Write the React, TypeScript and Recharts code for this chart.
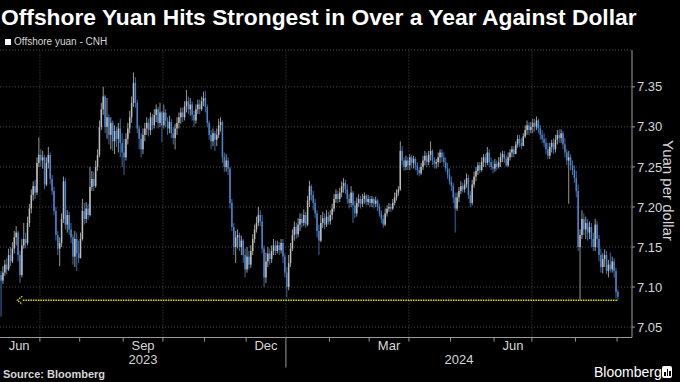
import React from 'react';
import { ComposedChart, Bar, XAxis, YAxis, CartesianGrid, ReferenceLine, ReferenceDot } from 'recharts';

// daily candles: [high, low, close], open = previous close
type HLC = [number, number, number];

const jun2023: HLC[] = [
  [7.122, 7.100, 7.115], [7.120, 7.063, 7.108], [7.126, 7.104, 7.118], [7.134, 7.114, 7.128],
  [7.136, 7.116, 7.122], [7.148, 7.120, 7.140], [7.150, 7.126, 7.132], [7.156, 7.130, 7.148],
  [7.170, 7.142, 7.162], [7.176, 7.152, 7.168], [7.170, 7.132, 7.140], [7.145, 7.105, 7.115],
  [7.160, 7.112, 7.152], [7.180, 7.148, 7.160], [7.168, 7.148, 7.155], [7.188, 7.152, 7.180],
  [7.204, 7.175, 7.198], [7.222, 7.192, 7.215], [7.232, 7.208, 7.226], [7.234, 7.210, 7.218],
  [7.262, 7.215, 7.255], [7.287, 7.250, 7.265],
];
const jul2023: HLC[] = [
  [7.272, 7.250, 7.258], [7.270, 7.248, 7.262], [7.265, 7.222, 7.228], [7.262, 7.226, 7.255],
  [7.275, 7.248, 7.265], [7.268, 7.228, 7.235], [7.240, 7.215, 7.220], [7.225, 7.190, 7.195],
  [7.200, 7.158, 7.165], [7.170, 7.140, 7.148], [7.162, 7.126, 7.155], [7.192, 7.150, 7.185],
  [7.238, 7.180, 7.232], [7.236, 7.172, 7.178], [7.196, 7.168, 7.190], [7.194, 7.165, 7.172],
  [7.180, 7.155, 7.162], [7.166, 7.128, 7.138], [7.170, 7.125, 7.160], [7.168, 7.120, 7.142],
  [7.158, 7.130, 7.136],
];
const aug2023: HLC[] = [
  [7.168, 7.140, 7.160], [7.210, 7.158, 7.195], [7.205, 7.178, 7.185], [7.206, 7.180, 7.198],
  [7.204, 7.184, 7.190], [7.250, 7.188, 7.225], [7.245, 7.220, 7.235], [7.244, 7.220, 7.226],
  [7.258, 7.224, 7.250], [7.272, 7.245, 7.265], [7.308, 7.262, 7.300], [7.330, 7.296, 7.322],
  [7.350, 7.315, 7.338], [7.340, 7.292, 7.300], [7.336, 7.285, 7.312], [7.316, 7.278, 7.290],
  [7.312, 7.272, 7.305], [7.308, 7.270, 7.282], [7.302, 7.266, 7.295], [7.300, 7.275, 7.285],
  [7.305, 7.268, 7.298], [7.310, 7.262, 7.280], [7.292, 7.250, 7.268],
];
const sep2023: HLC[] = [
  [7.285, 7.240, 7.262], [7.292, 7.258, 7.285], [7.305, 7.278, 7.298], [7.320, 7.292, 7.312],
  [7.338, 7.305, 7.330], [7.368, 7.325, 7.355], [7.362, 7.324, 7.330], [7.334, 7.292, 7.298],
  [7.302, 7.272, 7.285], [7.292, 7.262, 7.272], [7.298, 7.266, 7.290], [7.305, 7.282, 7.298],
  [7.312, 7.290, 7.305], [7.310, 7.288, 7.296], [7.318, 7.290, 7.312], [7.316, 7.296, 7.302],
  [7.322, 7.298, 7.315], [7.328, 7.306, 7.322], [7.325, 7.298, 7.305], [7.330, 7.300, 7.318],
  [7.320, 7.281, 7.302],
];
const oct2023: HLC[] = [
  [7.328, 7.298, 7.318], [7.322, 7.300, 7.308], [7.312, 7.290, 7.298], [7.314, 7.292, 7.306],
  [7.310, 7.286, 7.292], [7.300, 7.278, 7.286], [7.304, 7.272, 7.298], [7.312, 7.290, 7.305],
  [7.318, 7.298, 7.312], [7.324, 7.304, 7.318], [7.324, 7.306, 7.312], [7.332, 7.308, 7.326],
  [7.346, 7.318, 7.332], [7.338, 7.316, 7.322], [7.336, 7.314, 7.328], [7.332, 7.308, 7.315],
  [7.320, 7.300, 7.308], [7.328, 7.304, 7.322], [7.334, 7.316, 7.328], [7.334, 7.316, 7.322],
  [7.338, 7.320, 7.332], [7.344, 7.326, 7.336],
];
const nov2023: HLC[] = [
  [7.345, 7.318, 7.325], [7.328, 7.300, 7.305], [7.308, 7.284, 7.290], [7.296, 7.272, 7.282],
  [7.298, 7.276, 7.292], [7.295, 7.270, 7.284], [7.298, 7.276, 7.290], [7.310, 7.286, 7.302],
  [7.312, 7.294, 7.306], [7.308, 7.255, 7.262], [7.268, 7.244, 7.250], [7.266, 7.244, 7.258],
  [7.262, 7.240, 7.248], [7.250, 7.198, 7.205], [7.210, 7.170, 7.175], [7.180, 7.140, 7.150],
  [7.170, 7.130, 7.162], [7.172, 7.148, 7.165], [7.168, 7.145, 7.150], [7.164, 7.140, 7.158],
  [7.160, 7.130, 7.140], [7.148, 7.112, 7.122],
];
const dec2023: HLC[] = [
  [7.150, 7.118, 7.138], [7.145, 7.122, 7.128], [7.152, 7.124, 7.145], [7.166, 7.140, 7.160],
  [7.178, 7.155, 7.172], [7.188, 7.168, 7.180], [7.200, 7.176, 7.190], [7.196, 7.176, 7.182],
  [7.190, 7.142, 7.148], [7.152, 7.100, 7.112], [7.143, 7.105, 7.132], [7.150, 7.125, 7.142],
  [7.148, 7.128, 7.135], [7.152, 7.130, 7.145], [7.160, 7.140, 7.152], [7.158, 7.140, 7.145],
  [7.158, 7.142, 7.152], [7.156, 7.140, 7.146], [7.160, 7.142, 7.155], [7.160, 7.130, 7.138],
  [7.142, 7.112, 7.118],
];
const jan2024: HLC[] = [
  [7.125, 7.087, 7.100], [7.140, 7.096, 7.130], [7.155, 7.125, 7.148], [7.172, 7.145, 7.165],
  [7.182, 7.158, 7.175], [7.180, 7.160, 7.166], [7.186, 7.162, 7.178], [7.192, 7.170, 7.185],
  [7.192, 7.174, 7.180], [7.197, 7.176, 7.190], [7.194, 7.174, 7.178], [7.214, 7.176, 7.208],
  [7.233, 7.200, 7.226], [7.228, 7.208, 7.215], [7.220, 7.196, 7.205], [7.210, 7.186, 7.192],
  [7.196, 7.162, 7.170], [7.178, 7.140, 7.158], [7.190, 7.156, 7.180], [7.194, 7.174, 7.186],
  [7.192, 7.172, 7.178], [7.196, 7.175, 7.188], [7.194, 7.178, 7.182],
];
const feb2024: HLC[] = [
  [7.196, 7.178, 7.190], [7.204, 7.184, 7.198], [7.216, 7.194, 7.210], [7.222, 7.205, 7.216],
  [7.220, 7.205, 7.210], [7.224, 7.206, 7.218], [7.232, 7.212, 7.226], [7.236, 7.218, 7.230],
  [7.234, 7.216, 7.222], [7.228, 7.204, 7.210], [7.216, 7.198, 7.205], [7.226, 7.200, 7.218],
  [7.220, 7.180, 7.202], [7.208, 7.186, 7.192], [7.212, 7.188, 7.205], [7.216, 7.200, 7.210],
  [7.214, 7.198, 7.204], [7.216, 7.200, 7.210], [7.218, 7.204, 7.214], [7.216, 7.202, 7.206],
  [7.215, 7.202, 7.210],
];
const mar2024: HLC[] = [
  [7.214, 7.200, 7.205], [7.214, 7.200, 7.210], [7.212, 7.198, 7.204], [7.213, 7.200, 7.208],
  [7.210, 7.195, 7.200], [7.204, 7.188, 7.192], [7.196, 7.180, 7.185], [7.190, 7.174, 7.178],
  [7.198, 7.176, 7.192], [7.202, 7.188, 7.198], [7.205, 7.194, 7.200], [7.204, 7.194, 7.198],
  [7.210, 7.196, 7.205], [7.218, 7.202, 7.212], [7.222, 7.208, 7.218], [7.226, 7.214, 7.222],
  [7.282, 7.220, 7.270], [7.276, 7.252, 7.258], [7.262, 7.245, 7.250], [7.264, 7.246, 7.258],
  [7.262, 7.246, 7.252],
];
const apr2024: HLC[] = [
  [7.266, 7.246, 7.262], [7.265, 7.248, 7.255], [7.264, 7.248, 7.260], [7.262, 7.246, 7.252],
  [7.256, 7.240, 7.246], [7.250, 7.238, 7.242], [7.255, 7.240, 7.250], [7.264, 7.246, 7.258],
  [7.270, 7.252, 7.264], [7.268, 7.250, 7.256], [7.270, 7.252, 7.265], [7.282, 7.258, 7.270],
  [7.272, 7.252, 7.258], [7.262, 7.248, 7.254], [7.260, 7.248, 7.256], [7.268, 7.250, 7.262],
  [7.272, 7.255, 7.268], [7.272, 7.256, 7.262], [7.268, 7.250, 7.256], [7.262, 7.244, 7.248],
  [7.255, 7.235, 7.240], [7.248, 7.228, 7.232],
];
const may2024: HLC[] = [
  [7.238, 7.220, 7.226], [7.230, 7.205, 7.212], [7.218, 7.168, 7.198], [7.218, 7.195, 7.212],
  [7.225, 7.206, 7.220], [7.232, 7.216, 7.226], [7.230, 7.218, 7.222], [7.234, 7.218, 7.228],
  [7.242, 7.224, 7.236], [7.240, 7.210, 7.215], [7.220, 7.200, 7.205], [7.234, 7.202, 7.228],
  [7.244, 7.224, 7.238], [7.250, 7.232, 7.245], [7.256, 7.240, 7.252], [7.256, 7.242, 7.246],
  [7.262, 7.244, 7.256], [7.266, 7.250, 7.262], [7.266, 7.250, 7.255], [7.275, 7.252, 7.268],
  [7.272, 7.250, 7.256], [7.262, 7.246, 7.250], [7.258, 7.242, 7.248],
];
const jun2024: HLC[] = [
  [7.260, 7.244, 7.254], [7.258, 7.246, 7.250], [7.262, 7.248, 7.256], [7.268, 7.250, 7.262],
  [7.270, 7.256, 7.266], [7.270, 7.255, 7.260], [7.264, 7.250, 7.252], [7.268, 7.250, 7.262],
  [7.272, 7.258, 7.268], [7.276, 7.262, 7.272], [7.276, 7.262, 7.266], [7.282, 7.266, 7.278],
  [7.290, 7.274, 7.285], [7.290, 7.275, 7.280], [7.286, 7.272, 7.276], [7.292, 7.276, 7.288],
  [7.302, 7.286, 7.296], [7.308, 7.290, 7.302], [7.306, 7.290, 7.296], [7.306, 7.292, 7.300],
];
const jul2024: HLC[] = [
  [7.310, 7.292, 7.305], [7.310, 7.294, 7.300], [7.313, 7.296, 7.308], [7.310, 7.292, 7.298],
  [7.302, 7.284, 7.290], [7.296, 7.280, 7.285], [7.292, 7.275, 7.280], [7.286, 7.266, 7.272],
  [7.280, 7.260, 7.264], [7.280, 7.260, 7.275], [7.284, 7.268, 7.280], [7.286, 7.266, 7.272],
  [7.290, 7.268, 7.284], [7.296, 7.278, 7.290], [7.297, 7.280, 7.286], [7.297, 7.280, 7.292],
  [7.295, 7.272, 7.278], [7.286, 7.262, 7.268], [7.272, 7.252, 7.258], [7.270, 7.204, 7.262],
  [7.266, 7.246, 7.252], [7.258, 7.240, 7.246], [7.252, 7.230, 7.236],
];
const aug2024: HLC[] = [
  [7.245, 7.212, 7.220], [7.228, 7.145, 7.150], [7.172, 7.084, 7.165], [7.196, 7.160, 7.185],
  [7.192, 7.165, 7.172], [7.188, 7.160, 7.180], [7.185, 7.158, 7.168], [7.182, 7.160, 7.175],
  [7.180, 7.150, 7.160], [7.168, 7.145, 7.150], [7.185, 7.145, 7.178], [7.182, 7.150, 7.160],
  [7.165, 7.132, 7.140], [7.148, 7.118, 7.125], [7.142, 7.117, 7.135], [7.147, 7.125, 7.140],
  [7.145, 7.116, 7.120], [7.134, 7.112, 7.128], [7.143, 7.118, 7.122], [7.138, 7.118, 7.132],
  [7.136, 7.112, 7.120], [7.124, 7.086, 7.094],
];
const sep2024: HLC[] = [[7.097, 7.083, 7.088]];

const months = [
  jun2023, jul2023, aug2023, sep2023, oct2023, nov2023, dec2023,
  jan2024, feb2024, mar2024, apr2024, may2024, jun2024, jul2024, aug2024, sep2024,
];
const monthNames = ['Jun', 'Jul', 'Aug', 'Sep', 'Oct', 'Nov', 'Dec', 'Jan', 'Feb', 'Mar', 'Apr', 'May', 'Jun', 'Jul', 'Aug', 'Sep'];
const labelledMonths = [0, 3, 6, 9, 12];
const quarterMonths = [1, 4, 7, 10, 13];
const years = ['2023', '2024'];
const newYearMonth = 7;
const firstOpen = 7.112;
const yTicks = [7.05, 7.1, 7.15, 7.2, 7.25, 7.3, 7.35];
const markerLevel = 7.0835;
const markerFrom = 12.5;

const W = 680;
const H = 382;
const TOP = 50;
const RIGHT_W = 48;
const BOTTOM_H = 44.5;
const AXIS_Y = H - BOTTOM_H;
const X_MIN = 0.4;
const X_MAX = 334.4;
const Y_MIN = 7.037;
const Y_MAX = 7.396;

const FONT = '"Liberation Sans", Arial, sans-serif';
const UP = '#bdbdbd';
const DOWN = '#4a84cf';
const GRID = '#4d4d4d';
const AXIS = '#9a9a9a';
const TEXT = '#d6d6d6';

const rows: { i: number; open: number; high: number; low: number; close: number }[] = [];
const monthStart: number[] = [];
let prevClose = firstOpen;
months.forEach((m) => {
  monthStart.push(rows.length);
  m.forEach(([h, l, c]) => {
    const o = prevClose;
    rows.push({ i: rows.length, open: o, close: c, high: Math.max(h, o, c), low: Math.min(l, o, c) });
    prevClose = c;
  });
});
monthStart.push(rows.length);

const edge = (k: number) => monthStart[k] - 0.5;

// x axis ticks: month edges, month labels in the middle of a month, year labels
const tickInfo = new Map<number, { kind: string; text?: string }>();
for (let k = 1; k < months.length; k++) {
  tickInfo.set(edge(k), { kind: k === newYearMonth ? 'yearEdge' : 'edge' });
}
labelledMonths.forEach((k) => {
  tickInfo.set((edge(k) + edge(k + 1)) / 2, { kind: 'month', text: monthNames[k] });
});
tickInfo.set((X_MIN + edge(newYearMonth)) / 2, { kind: 'year', text: years[0] });
tickInfo.set((edge(newYearMonth) + X_MAX) / 2, { kind: 'year', text: years[1] });
const xTicks = Array.from(tickInfo.keys()).sort((a, b) => a - b);

const AxisTick = (props: any) => {
  const { x, payload } = props;
  const info = tickInfo.get(payload.value);
  if (!info) return null;
  if (info.kind === 'edge') {
    return <line x1={x} x2={x} y1={AXIS_Y} y2={AXIS_Y + 4} stroke={AXIS} />;
  }
  if (info.kind === 'yearEdge') {
    return <line x1={x} x2={x} y1={AXIS_Y} y2={AXIS_Y + 30} stroke={AXIS} />;
  }
  return (
    <text x={x} y={info.kind === 'month' ? AXIS_Y + 12.5 : AXIS_Y + 26.5} textAnchor="middle"
      fill={TEXT} fontSize={13} fontFamily={FONT}>
      {info.text}
    </text>
  );
};

const Candle = (props: any) => {
  const { x, y, width, height, payload } = props;
  if (!payload) return null;
  const { open, close, high, low } = payload;
  const top = Math.min(y, y + height);
  const span = Math.abs(height);
  const k = span / (high - low);
  const cx = x + width / 2;
  const yOpen = top + (high - open) * k;
  const yClose = top + (high - close) * k;
  const color = close >= open ? UP : DOWN;
  const bodyTop = Math.min(yOpen, yClose);
  const bodyH = Math.max(Math.abs(yOpen - yClose), 0.8);
  return (
    <g>
      <line x1={cx} x2={cx} y1={top} y2={top + span} stroke={color} strokeWidth={0.8} />
      <rect x={cx - 0.75} y={bodyTop} width={1.5} height={bodyH} fill={color} />
    </g>
  );
};

const Chevron = (props: any) => {
  const { cx, cy } = props;
  return (
    <path d={`M${cx},${cy - 4} L${cx - 5},${cy} L${cx},${cy + 4}`} fill="none"
      stroke="#e2e200" strokeWidth={1.3} strokeDasharray="1.5 1" />
  );
};

const YuanChart = () => {
  return (
    <div style={{ position: 'relative', width: W, height: H, background: '#000', fontFamily: FONT, overflow: 'hidden' }}>
      <ComposedChart width={W} height={H} data={rows} margin={{ top: TOP, right: 0, bottom: 0, left: 0 }}>
        <CartesianGrid vertical={false} stroke={GRID} strokeDasharray="1 2" />
        {quarterMonths.map((k) => (
          <ReferenceLine key={k} x={edge(k)} stroke={GRID} strokeDasharray="1 2" />
        ))}
        <XAxis type="number" dataKey="i" domain={[X_MIN, X_MAX]} allowDataOverflow ticks={xTicks}
          interval={0} tick={<AxisTick />} tickLine={false} axisLine={{ stroke: AXIS }} height={BOTTOM_H} />
        <YAxis orientation="right" domain={[Y_MIN, Y_MAX]} allowDataOverflow ticks={yTicks} interval={0}
          width={RIGHT_W} tickSize={3} tickMargin={2} tickLine={{ stroke: AXIS }} axisLine={{ stroke: AXIS }}
          tick={{ fill: TEXT, fontSize: 13, fontFamily: FONT, textAnchor: 'start' }}
          tickFormatter={(v: number) => v.toFixed(2)} />
        <Bar dataKey={(d: any) => [d.low, d.high]} barSize={2} shape={<Candle />} isAnimationActive={false} />
        <ReferenceLine segment={[{ x: markerFrom, y: markerLevel }, { x: rows.length - 1, y: markerLevel }]}
          stroke="#e2e200" strokeWidth={1.5} strokeDasharray="1.5 1" />
        <ReferenceDot x={markerFrom - 0.3} y={markerLevel} shape={<Chevron />} />
      </ComposedChart>

      <div style={{ position: 'absolute', left: 1, top: 4, fontSize: 22.8, fontWeight: 'bold', color: '#fff', lineHeight: '26px', whiteSpace: 'nowrap' }}>
        Offshore Yuan Hits Strongest in Over a Year Against Dollar
      </div>
      <div style={{ position: 'absolute', left: 5, top: 39, width: 6, height: 6, background: '#fff' }} />
      <div style={{ position: 'absolute', left: 14, top: 35, fontSize: 10, color: TEXT, lineHeight: '14px', whiteSpace: 'nowrap' }}>
        Offshore yuan - CNH
      </div>
      <div style={{ position: 'absolute', left: 660, top: 140, writingMode: 'vertical-rl', fontSize: 15, color: TEXT, lineHeight: '16px', whiteSpace: 'nowrap' }}>
        Yuan per dollar
      </div>
      <div style={{ position: 'absolute', left: 3, top: 367, fontSize: 11, fontWeight: 'bold', color: TEXT, lineHeight: '14px', whiteSpace: 'nowrap' }}>
        Source: Bloomberg
      </div>
      <div style={{ position: 'absolute', left: 594, top: 363, fontSize: 14, color: '#fff', lineHeight: '18px', whiteSpace: 'nowrap' }}>
        Bloomberg
      </div>
      <div style={{ position: 'absolute', left: 662, top: 366, width: 10, height: 12, background: '#fff', borderRadius: 2 }}>
        <div style={{ position: 'absolute', left: 2, top: 6, width: 1.5, height: 4, background: '#000' }} />
        <div style={{ position: 'absolute', left: 4.5, top: 3, width: 1.5, height: 7, background: '#000' }} />
        <div style={{ position: 'absolute', left: 7, top: 5, width: 1.5, height: 5, background: '#000' }} />
      </div>
    </div>
  );
};

const App = () => {
  return (
    <div>
      <style>{'body{margin:0;background:#000}'}</style>
      <YuanChart />
    </div>
  );
};

export default App;
